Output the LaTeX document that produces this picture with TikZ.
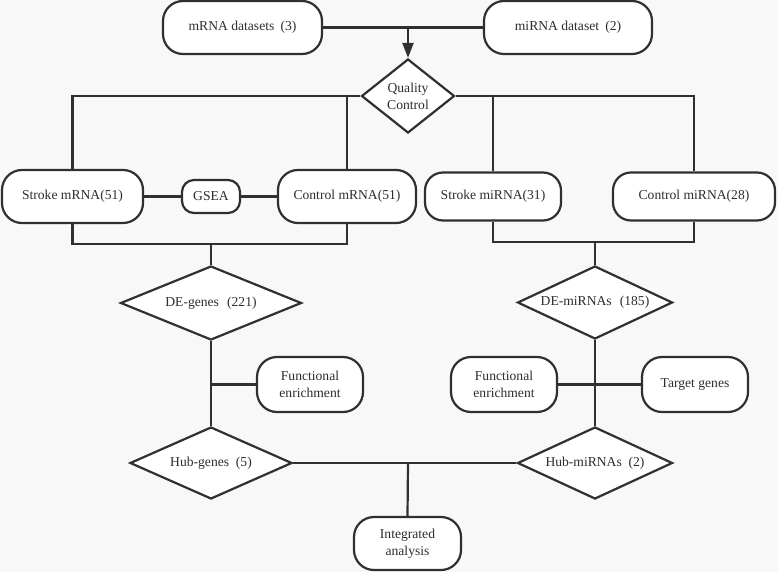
\documentclass[tikz,border=0pt]{standalone}
\usepackage{fontspec}
\setmainfont{Liberation Serif}
\usetikzlibrary{shapes.geometric,arrows.meta}
\definecolor{bgc}{RGB}{248,248,248}
\definecolor{ln}{RGB}{48,48,48}
\definecolor{tx}{RGB}{45,45,45}
\begin{document}
\begin{tikzpicture}[x=1pt,y=-1pt,
  every node/.style={font=\rmfamily\fontsize{13.6}{17}\selectfont, text=tx},
  rbox/.style={draw=ln, line width=2.2pt, fill=white, rounded corners=#1, inner sep=0pt, align=center},
  rbox/.default=20pt,
  dia/.style={diamond, draw=ln, line width=2.2pt, fill=white, inner sep=0pt},
  conn/.style={draw=ln, line width=2.2pt},
]
\useasboundingbox (0,0) rectangle (778,572);
\fill[bgc] (0,0) rectangle (778,572);

% nodes
\node[rbox, minimum width=159pt, minimum height=53pt] (mds) at (242.5,27.5) {mRNA datasets\hspace{0.45em}(3)};
\node[rbox, minimum width=168pt, minimum height=53pt] (mids) at (568,27.5) {miRNA dataset\hspace{0.45em}(2)};
\node[dia, minimum width=93pt, minimum height=74pt, label={[align=center]center:Quality\\Control}] (qc) at (408,96) {};

\node[rbox, minimum width=141pt, minimum height=53pt] (smr) at (72.5,196.5) {Stroke mRNA(51)};
\node[rbox=12pt, minimum width=58pt, minimum height=33pt] (gsea) at (211,196.5) {GSEA};
\node[rbox, minimum width=138pt, minimum height=53pt] (cmr) at (347,196.5) {Control mRNA(51)};
\node[rbox=18pt, minimum width=136pt, minimum height=48pt] (smi) at (493,196.5) {Stroke miRNA(31)};
\node[rbox=18pt, minimum width=162pt, minimum height=48pt] (cmi) at (694,196.5) {Control miRNA(28)};

\node[dia, minimum width=181pt, minimum height=74pt, label=center:{DE-genes\hspace{0.6em}(221)}] (deg) at (211,303) {};
\node[dia, minimum width=155pt, minimum height=73pt, label=center:{DE-miRNAs\hspace{0.6em}(185)}] (dem) at (595,302.5) {};

\node[rbox, minimum width=106pt, minimum height=55pt] (fel) at (310,384.5) {Functional\\enrichment};
\node[rbox, minimum width=106pt, minimum height=55pt] (fer) at (504,384.5) {Functional\\enrichment};
\node[rbox, minimum width=106pt, minimum height=55pt] (tg) at (695,384.5) {Target genes};

\node[dia, minimum width=162pt, minimum height=72pt, label=center:{Hub-genes\hspace{0.5em}(5)}] (hubg) at (211,463) {};
\node[dia, minimum width=155pt, minimum height=72pt, label=center:{Hub-miRNAs\hspace{0.5em}(2)}] (hubm) at (595,463) {};
\node[rbox, minimum width=107pt, minimum height=53pt] (ia) at (407.5,543.5) {Integrated\\analysis};

% connectors
\coordinate (j0) at (408,27.5);
\draw[conn] (mds.east) -- (mids.west);
\draw[conn, -{Triangle[length=15pt,width=11pt]}] (j0) -- (qc.north);

\draw[conn] (qc.west) -| (smr.north);
\draw[conn] (cmr.north) |- (qc.west);
\draw[conn] (qc.east) -| (cmi.north);
\draw[conn] (smi.north) |- (qc.east);

\draw[conn] (smr.east) -- (gsea.west);
\draw[conn] (gsea.east) -- (cmr.west);

\coordinate (b1) at (211,244);
\draw[conn] (smr.south) |- (b1) -| (cmr.south);
\draw[conn] (b1) -- (deg.north);
\coordinate (b2) at (595,242);
\draw[conn] (smi.south) |- (b2) -| (cmi.south);
\draw[conn] (b2) -- (dem.north);

\draw[conn] (deg.south) -- (hubg.north);
\draw[conn] (fel.west) -- (fel.west -| deg.south);
\draw[conn] (dem.south) -- (hubm.north);
\draw[conn] (fer.east) -- (tg.west);
\draw[conn] (hubg.east) -- (hubm.west);
\coordinate (j3) at (408,463);
\draw[conn] (j3) -- (ia.north);
\end{tikzpicture}
\end{document}
